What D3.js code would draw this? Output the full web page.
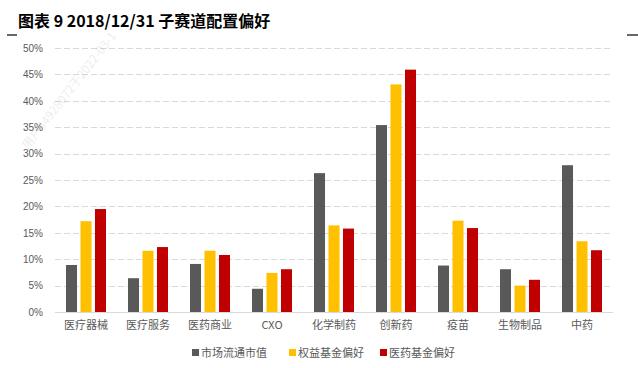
<!DOCTYPE html>
<html>
<head>
<meta charset="utf-8">
<script src="https://cdn.jsdelivr.net/npm/d3@7"></script>
<style>
  body { margin: 0; background: #fff; }
  text { font-family: "Liberation Sans", "Noto Sans CJK SC", sans-serif; }
</style>
</head>
<body>
<div id="vis"></div>
<script>
// chart data
const categories = ['医疗器械', '医疗服务', '医药商业', 'CXO', '化学制药', '创新药', '疫苗', '生物制品', '中药'];
const seriesNames = ['市场流通市值', '权益基金偏好', '医药基金偏好'];
const marketCap = [8.9, 6.4, 9.1, 4.4, 26.3, 35.4, 8.8, 8.1, 27.8];
const equityFund = [17.2, 11.6, 11.6, 7.4, 16.4, 43.1, 17.3, 5.0, 13.4];
const pharmaFund = [19.5, 12.3, 10.8, 8.1, 15.8, 45.9, 15.9, 6.1, 11.7];
const yTicks = [0, 5, 10, 15, 20, 25, 30, 35, 40, 45, 50];
const colors = ['#595959', '#ffc000', '#c00000'];

const series = [marketCap, equityFund, pharmaFund];

let width = 638, height = 368;
let margin = { top: 48, left: 55, right: 25, bottom: 56 };

let svg = d3.select('#vis')
  .append('svg')
  .attr('width', width)
  .attr('height', height)
  .style('background-color', 'white');

// title and the little corner marks
svg.append('text')
  .attr('x', 18)
  .attr('y', 27)
  .attr('font-size', 16)
  .attr('font-weight', 'bold')
  .attr('fill', '#000')
  .style('font-family', '"Noto Sans CJK SC", sans-serif')
  .text('图表 9 2018/12/31 子赛道配置偏好');

svg.append('line').attr('x1', 7).attr('x2', 17).attr('y1', 35).attr('y2', 35)
  .attr('stroke', '#000').attr('stroke-width', 1.2);
svg.append('line').attr('x1', 627).attr('x2', 638).attr('y1', 35).attr('y2', 35)
  .attr('stroke', '#000').attr('stroke-width', 1.2);

// scales
let x = d3.scaleBand()
  .domain(categories)
  .range([margin.left, width - margin.right])
  .paddingInner(0)
  .paddingOuter(0);

let y = d3.scaleLinear()
  .domain([0, 50])
  .range([height - margin.bottom, margin.top]);

let x1 = d3.scaleBand()
  .domain(d3.range(series.length))
  .range([0, 40])
  .paddingInner(0.24);

let groupOffset = (x.bandwidth() - 40) / 2;

// gridlines
svg.append('g')
  .selectAll('line')
  .data(yTicks.filter(d => d > 0))
  .join('line')
  .attr('x1', margin.left)
  .attr('x2', width - margin.right)
  .attr('y1', d => Math.round(y(d)) + 0.5)
  .attr('y2', d => Math.round(y(d)) + 0.5)
  .attr('stroke', '#d9d9d9')
  .attr('stroke-width', 1)
  .attr('stroke-dasharray', '6,3');

// y axis labels
let yAxis = svg.append('g')
  .attr('transform', `translate(${margin.left - 9},0)`)
  .call(d3.axisLeft(y).tickValues(yTicks).tickFormat(d => d + '%').tickSize(0));
yAxis.select('.domain').remove();
yAxis.selectAll('text')
  .attr('font-size', 10)
  .attr('fill', '#595959')
  .style('font-family', '"Liberation Sans", sans-serif');

// bars
svg.append('g')
  .selectAll('g')
  .data(categories)
  .join('g')
  .attr('transform', d => `translate(${x(d) + groupOffset},0)`)
  .selectAll('rect')
  .data((d, i) => series.map((s, k) => ({ k: k, v: s[i] })))
  .join('rect')
  .attr('x', d => x1(d.k))
  .attr('y', d => y(d.v))
  .attr('width', x1.bandwidth())
  .attr('height', d => y(0) - y(d.v))
  .attr('fill', d => colors[d.k]);

// baseline
svg.append('line')
  .attr('x1', margin.left)
  .attr('x2', width - margin.right)
  .attr('y1', Math.round(y(0)) + 0.5)
  .attr('y2', Math.round(y(0)) + 0.5)
  .attr('stroke', '#d9d9d9');

// x axis labels
let xAxis = svg.append('g')
  .attr('transform', `translate(0,${y(0)})`)
  .call(d3.axisBottom(x).tickSize(0).tickPadding(9));
xAxis.select('.domain').remove();
xAxis.selectAll('text')
  .attr('font-size', 11)
  .attr('fill', '#595959')
  .style('font-family', '"Noto Sans CJK SC", sans-serif');

// legend
let legendX = [192, 289, 380];
let legend = svg.append('g')
  .selectAll('g')
  .data(seriesNames)
  .join('g')
  .attr('transform', (d, i) => `translate(${legendX[i]},353)`);
legend.append('rect')
  .attr('x', 0)
  .attr('y', -4)
  .attr('width', 7)
  .attr('height', 7)
  .attr('fill', (d, i) => colors[i]);
legend.append('text')
  .attr('x', 9)
  .attr('y', 4)
  .attr('font-size', 11)
  .attr('fill', '#595959')
  .style('font-family', '"Noto Sans CJK SC", sans-serif')
  .text(d => d);

// faint watermark
svg.append('text')
  .attr('transform', 'translate(28,150) rotate(-52)')
  .attr('font-size', 12)
  .attr('fill', '#000')
  .attr('opacity', 0.07)
  .style('font-family', '"Noto Sans CJK SC", sans-serif')
  .text('用户54928072于2022-03-1');
</script>
</body>
</html>
